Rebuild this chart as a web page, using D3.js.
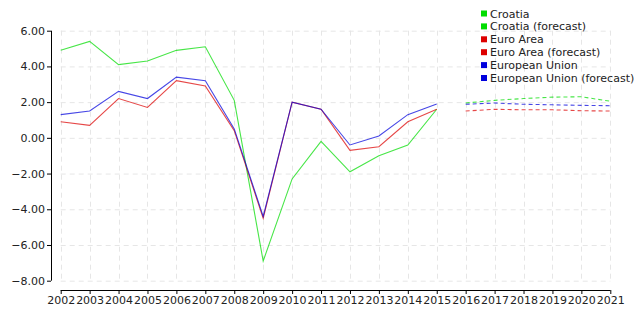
<!DOCTYPE html>
<html>
<head>
<meta charset="utf-8">
<title>GDP growth</title>
<script src="https://d3js.org/d3.v7.min.js"></script>
<style>
  body { margin: 0; background: #fff; }
  text { font-family: "DejaVu Sans", sans-serif; font-size: 11px; fill: #222; }
</style>
</head>
<body>
<script>
	var width = 640, height = 320;

	// data
	var years      = d3.range(2002, 2016);
	var yearsFc    = d3.range(2016, 2022);
	var croatia    = [4.9, 5.4, 4.1, 4.3, 4.9, 5.1, 2.1, -6.9, -2.3, -0.2, -1.9, -1.0, -0.4, 1.6];
	var euroArea   = [0.9, 0.7, 2.2, 1.7, 3.2, 2.9, 0.4, -4.5, 2.0, 1.6, -0.7, -0.5, 0.9, 1.6];
	var eu         = [1.3, 1.5, 2.6, 2.2, 3.4, 3.2, 0.5, -4.4, 2.0, 1.6, -0.4, 0.1, 1.3, 1.9];
	var croatiaFc  = [1.95, 2.1, 2.2, 2.28, 2.3, 2.05];
	var euroAreaFc = [1.5, 1.6, 1.57, 1.57, 1.52, 1.5];
	var euFc       = [1.88, 1.95, 1.88, 1.85, 1.82, 1.8];
	var yTicks     = [-8, -6, -4, -2, 0, 2, 4, 6];

	var series = [
		{name: "Croatia",                  x: years,   v: croatia,    c: "#00dd00", dash: null},
		{name: "Croatia (forecast)",       x: yearsFc, v: croatiaFc,  c: "#00dd00", dash: "4,3"},
		{name: "Euro Area",                x: years,   v: euroArea,   c: "#dd0000", dash: null},
		{name: "Euro Area (forecast)",     x: yearsFc, v: euroAreaFc, c: "#dd0000", dash: "4,3"},
		{name: "European Union",           x: years,   v: eu,         c: "#0000dd", dash: null},
		{name: "European Union (forecast)",x: yearsFc, v: euFc,       c: "#0000dd", dash: "4,3"}
	];

	var xScale = d3.scaleLinear().domain([2002, 2021]).range([60.7, 610.3]);
	var yScale = d3.scaleLinear().domain([-8, 6]).range([280.7, 30.7]);

	var svg = d3.select("body").append("svg")
		.attr("width", width).attr("height", height);

	// grid
	var grid = svg.append("g").attr("stroke", "#e6e6e6").attr("stroke-dasharray", "5,4");
	grid.selectAll("line.h").data(yTicks).enter().append("line")
		.attr("x1", xScale(2002)).attr("x2", xScale(2021))
		.attr("y1", d => yScale(d) + 0.5).attr("y2", d => yScale(d) + 0.5);
	grid.selectAll("line.v").data(d3.range(2002, 2022)).enter().append("line")
		.attr("x1", d => Math.round(xScale(d)) + 0.5).attr("x2", d => Math.round(xScale(d)) + 0.5)
		.attr("y1", yScale(6)).attr("y2", yScale(-8));

	// axes
	var yAxis = d3.axisLeft(yScale).tickValues(yTicks).tickSize(4).tickPadding(2)
		.tickFormat(d3.format(".2f"));
	var gy = svg.append("g").attr("transform", "translate(51,0)").call(yAxis);
	gy.select(".domain").attr("d", "M0.5," + yScale(6) + "V" + yScale(-8));

	var xAxis = d3.axisBottom(xScale).tickValues(d3.range(2002, 2022)).tickSize(4).tickPadding(2)
		.tickFormat(d3.format("d"));
	var gx = svg.append("g").attr("transform", "translate(0,290)").call(xAxis);
	gx.select(".domain").attr("d", "M" + xScale(2002) + ",0.5H" + xScale(2021));

	svg.selectAll(".tick text").style("font-family", "DejaVu Sans").style("font-size", "11px").attr("fill", "#222");
	svg.selectAll(".domain, .tick line").attr("stroke", "#000");

	// lines
	var line = d3.line().x(d => xScale(d[0])).y(d => yScale(d[1]));
	svg.append("g").selectAll("path").data(series).enter().append("path")
		.attr("d", s => line(s.x.map((x, i) => [x, s.v[i]])))
		.attr("fill", "none")
		.attr("stroke", s => s.c)
		.attr("stroke-opacity", 0.72)
		.attr("stroke-width", 1.1)
		.attr("stroke-dasharray", s => s.dash);

	// legend
	var lg = svg.append("g").attr("transform", "translate(481,10)");
	var item = lg.selectAll("g").data(series).enter().append("g")
		.attr("transform", (d, i) => "translate(0," + (i * 12.9) + ")");
	item.append("rect").attr("width", 6).attr("height", 6).attr("y", 0.5).attr("fill", d => d.c);
	item.append("text").attr("x", 9).attr("y", 7.5).text(d => d.name);
</script>
</body>
</html>
